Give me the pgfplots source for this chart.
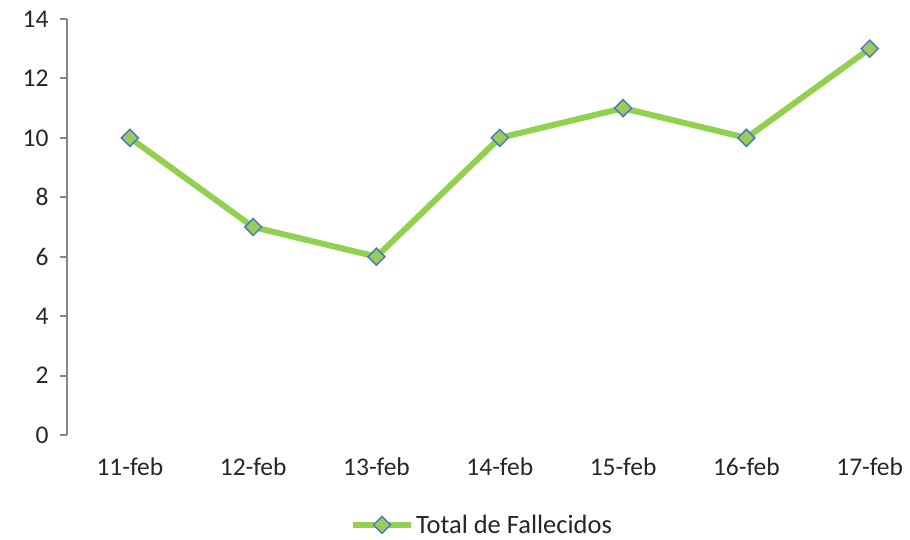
\documentclass[border=0pt]{standalone}
\usepackage{pgfplots}
\pgfplotsset{compat=1.18}
\usepackage{fontspec}
\setmainfont{Carlito}
\definecolor{lgreen}{HTML}{92D050}
\definecolor{mfill}{HTML}{9BCB5A}
\definecolor{medge}{HTML}{4A7EBB}
\definecolor{axgray}{HTML}{868686}
\begin{document}
\begin{tikzpicture}[x=1pt,y=1pt]
\begin{axis}[
  at={(0,0)}, anchor=south west,
  scale only axis,
  width=843pt, height=416pt,
  xmin=-0.51, xmax=6.327,
  ymin=0, ymax=14,
  ytick={0,2,...,14},
  xtick={0,...,6},
  xticklabels={11-feb,12-feb,13-feb,14-feb,15-feb,16-feb,17-feb},
  axis x line*=bottom,
  axis y line*=left,
  x axis line style={draw=none},
  y axis line style={axgray, line width=2pt, -},
  ytick style={axgray, line width=2pt},
  tick align=outside,
  major tick length=7pt,
  xtick style={draw=none},
  tick label style={font=\fontsize{25.5}{30}\selectfont, text=black!85},
  /pgf/number format/assume math mode=true,
  yticklabel style={xshift=-8pt},
  xticklabel style={yshift=-12pt},
  clip=false,
  legend style={at={(0.4923,-0.216)}, anchor=center, draw=none, fill=none,
    font=\fontsize{26.5}{31}\selectfont, text=black!85},
  legend cell align=left,
  legend image code/.code={%
    \draw[mark repeat=2,mark phase=2] plot coordinates {(0pt,0pt) (29pt,0pt) (58pt,0pt)};},
]
\addplot[color=lgreen, line width=6pt, mark=square*,
  mark options={rotate=45, fill=mfill, draw=medge, line width=1.5pt, scale=1},
  mark size=6pt]
  coordinates {(0,10) (1,7) (2,6) (3,10) (4,11) (5,10) (6,13)};
\addlegendentry{Total de Fallecidos}
\end{axis}
\pgfresetboundingbox
\path (-67pt,-105pt) rectangle (843pt,435pt);
\end{tikzpicture}
\end{document}
